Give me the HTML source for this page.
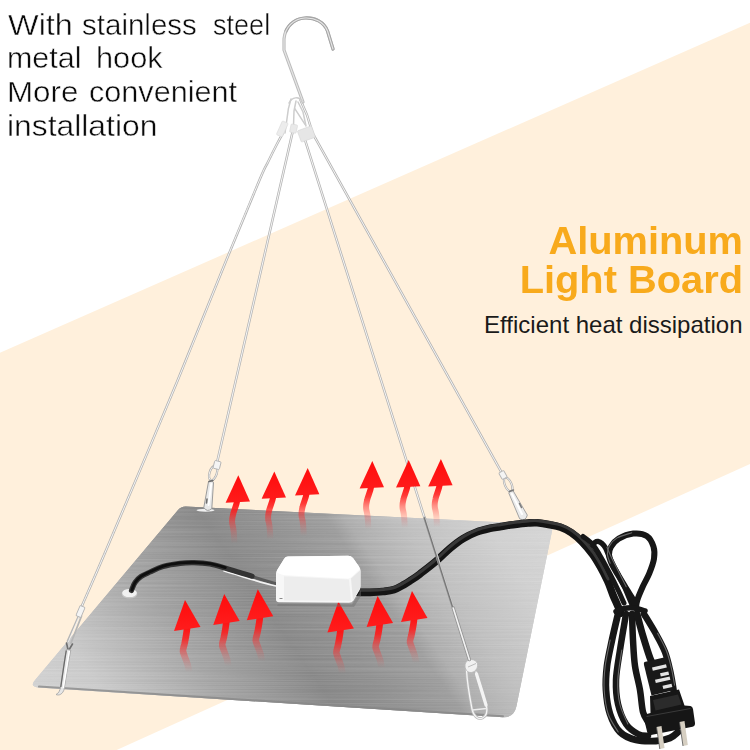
<!DOCTYPE html>
<html><head><meta charset="utf-8">
<style>
html,body{margin:0;padding:0;background:#fff;}
body{width:750px;height:750px;overflow:hidden;position:relative;font-family:"Liberation Sans",sans-serif;}
svg{position:absolute;left:0;top:0;}
.l{position:absolute;left:8px;font-size:29.5px;line-height:32px;height:32px;color:#0a0a0a;-webkit-text-stroke:0.45px #fff;white-space:nowrap;transform-origin:0 0;}
.t2{position:absolute;right:7.5px;top:220.8px;font-size:38.5px;line-height:39.5px;font-weight:bold;color:#f8aa1c;text-align:right;white-space:nowrap;transform-origin:100% 0;transform:scaleX(1.034);}
.t3{position:absolute;right:7.5px;top:312px;font-size:24px;line-height:26px;color:#1a1a1a;text-align:right;white-space:nowrap;}
</style></head><body>
<svg width="750" height="750" viewBox="0 0 750 750">
<defs>
<linearGradient id="plate" x1="32" y1="685" x2="456" y2="388.8" gradientUnits="userSpaceOnUse">
<stop offset="0" stop-color="#d0d0d0"/><stop offset="0.104" stop-color="#c8c8c8"/><stop offset="0.248" stop-color="#ababab"/><stop offset="0.288" stop-color="#a3a3a3"/><stop offset="0.456" stop-color="#878787"/><stop offset="0.547" stop-color="#8f8f8f"/><stop offset="0.652" stop-color="#9c9c9c"/><stop offset="0.681" stop-color="#acacac"/><stop offset="0.735" stop-color="#b8b8b8"/><stop offset="0.766" stop-color="#bebebe"/><stop offset="0.896" stop-color="#cfcfcf"/><stop offset="1" stop-color="#d4d4d4"/>
</linearGradient>
<filter id="brush" x="0" y="0" width="100%" height="100%" filterUnits="objectBoundingBox">
<feTurbulence type="fractalNoise" baseFrequency="0.004 0.75" numOctaves="2" seed="7" result="n"/>
<feColorMatrix in="n" type="matrix" values="0 0 0 0 1  0 0 0 0 1  0 0 0 0 1  1.6 0 0 0 -0.55"/>
<feComposite in2="SourceGraphic" operator="in"/>
</filter>
<linearGradient id="platev" x1="0" y1="508" x2="0" y2="716" gradientUnits="userSpaceOnUse">
<stop offset="0" stop-color="#000" stop-opacity="0.03"/><stop offset="0.3" stop-color="#000" stop-opacity="0"/><stop offset="1" stop-color="#fff" stop-opacity="0"/>
</linearGradient>
<linearGradient id="tailt" x1="0" y1="25" x2="0" y2="68" gradientUnits="userSpaceOnUse">
<stop offset="0" stop-color="#ff1010" stop-opacity="1"/><stop offset="0.25" stop-color="#ff1a1a" stop-opacity="0.85"/><stop offset="0.5" stop-color="#ff2626" stop-opacity="0.48"/><stop offset="0.75" stop-color="#ff3030" stop-opacity="0.2"/><stop offset="1" stop-color="#ff4040" stop-opacity="0"/>
</linearGradient>
<linearGradient id="tail" x1="0" y1="27" x2="0" y2="72" gradientUnits="userSpaceOnUse">
<stop offset="0" stop-color="#ff1010" stop-opacity="1"/><stop offset="0.25" stop-color="#ff1a1a" stop-opacity="0.88"/><stop offset="0.5" stop-color="#ff2626" stop-opacity="0.5"/><stop offset="0.75" stop-color="#ff3030" stop-opacity="0.2"/><stop offset="1" stop-color="#ff4040" stop-opacity="0"/>
</linearGradient>
<linearGradient id="head" x1="0" y1="0" x2="0" y2="30" gradientUnits="userSpaceOnUse">
<stop offset="0" stop-color="#ff0c0c"/><stop offset="1" stop-color="#ff1c1c"/>
</linearGradient>
<g id="arrow">
<path d="M2.200,27 C1.600,34 0.300,40 -0.500,44 C-1.500,48 -2.300,49.500 -2,51.500 C-1.500,54 0,56.800 2.700,64.800 L4.500,74" fill="none" stroke="url(#tail)" stroke-width="6.600"/>
<path d="M0,0 L15.500,27 L-11,31 Z" fill="url(#head)"/>
</g>
<g id="arrowt">
<path d="M-1,25 C-2,31 -4.500,35.500 -5.300,39.500 C-6.500,44.500 -6.600,47.500 -5.600,50.500 C-4.800,53.500 -4.200,58 -4,68" fill="none" stroke="url(#tailt)" stroke-width="6"/>
<path d="M0,0 L11.700,26.200 L-12.700,27.400 Z" fill="url(#head)"/>
</g>
</defs>
<polygon points="0,352.7 750,22.7 750,464 116.7,750 0,750" fill="#fff0dc"/>
<path id="pl" d="M186,506.500 L547,524.500 Q553,525 552,531 L516.500,706 Q514,718 503,717.200 L38,687.500 Q29,686.500 35.500,679.500 L178,510 Q181,506.300 186,506.500 Z" fill="url(#plate)"/>
<use href="#pl" fill="url(#platev)"/>
<use href="#pl" fill="#fff" filter="url(#brush)" opacity="0.17"/>
<path d="M39,686.600 L503,716.200" stroke="#858585" stroke-width="2" stroke-opacity="0.75" fill="none" stroke-linecap="round"/>

<g fill="none" stroke-linecap="round">
<g stroke="#b4b4b4" stroke-width="2.5" stroke-linejoin="round">
<path d="M283.0,133.0 C282.0,134.8 279.5,139.2 277.0,144.0 C274.5,148.8 270.9,156.0 268.0,162.0 C265.1,168.0 266.4,163.7 259.5,180.0 C252.6,196.3 240.0,226.7 226.4,260.0 C212.8,293.3 197.1,333.3 177.8,380.0 C158.5,426.7 126.8,501.5 110.4,540.0 C94.1,578.5 84.8,599.2 79.7,611.0"/>
<path d="M293.2,129.4 L216.7,464"/>
<path d="M305,139.8 L469.4,659.7"/>
<path d="M300.4,99.8 L307,115 L312.7,133.4 L502.8,474.7"/>
</g><g stroke="#f6f6f6" stroke-width="1.0" stroke-linejoin="round">
<path d="M283.0,133.0 C282.0,134.8 279.5,139.2 277.0,144.0 C274.5,148.8 270.9,156.0 268.0,162.0 C265.1,168.0 266.4,163.7 259.5,180.0 C252.6,196.3 240.0,226.7 226.4,260.0 C212.8,293.3 197.1,333.3 177.8,380.0 C158.5,426.7 126.8,501.5 110.4,540.0 C94.1,578.5 84.8,599.2 79.7,611.0"/>
<path d="M293.2,129.4 L216.7,464"/>
<path d="M305,139.8 L469.4,659.7"/>
<path d="M300.4,99.8 L307,115 L312.7,133.4 L502.8,474.7"/>
</g></g>
<!-- hook -->
<path d="M333,49 L327.5,31 C324,22 315,17.5 305,18 C294,18.5 285,27 284,39 L284,50 L303,102" fill="none" stroke="#bcbcbc" stroke-width="3.2" stroke-linecap="round" stroke-linejoin="round"/>
<path d="M333,49 L327.5,31 C324,22 315,17.5 305,18 C296,18.400 289,24 286,31" fill="none" stroke="#a6a6a6" stroke-width="3.200" stroke-linecap="round" stroke-linejoin="round"/>
<path d="M333,49 L327.5,31 C324,22 315,17.5 305,18 C294,18.5 285,27 284,39 L284,50 L303,102" fill="none" stroke="#e6e6e6" stroke-width="1.100" stroke-linecap="round" stroke-linejoin="round"/>
<!-- knot -->
<g fill="none" stroke="#cdcdcd" stroke-width="1.5" stroke-linecap="round" stroke-linejoin="round">
<path d="M285,133 L288.4,108.600 L291,99"/>
<path d="M293.5,126 L294,111 L296,101"/>
<path d="M294.800,108.600 L305.200,124.600"/>
<path d="M298,102 L303,112 L306,126"/>
<path d="M289,103 C292,97 299,96 302,101"/>
</g>
<rect x="-3.200" y="-7.500" width="6.400" height="15" rx="1" transform="translate(282.300,129) rotate(24)" fill="#ececec" stroke="#dadada" stroke-width="0.600"/>
<rect x="-3.300" y="-4.200" width="6.600" height="8.400" rx="1" transform="translate(293.600,128.600) rotate(12)" fill="#e9e9e9" stroke="#d8d8d8" stroke-width="0.600"/>
<rect x="-7.500" y="-6" width="15" height="12" rx="1" transform="translate(306.400,134) rotate(-20)" fill="#e6e6e6" stroke="#d6d6d6" stroke-width="0.600"/>
<!-- clips -->

<ellipse cx="205.5" cy="510.3" rx="9" ry="1.5" fill="#f0f0f0"/>
<ellipse cx="0" cy="0" rx="3.6" ry="7.6" transform="translate(213.2,473.0) rotate(18)" fill="none" stroke="#a9a9a9" stroke-width="2.2"/><ellipse cx="0" cy="0" rx="3.6" ry="7.6" transform="translate(213.2,473.0) rotate(18)" fill="none" stroke="#f2f2f2" stroke-width="0.9"/>
<path d="M208.5,481.7 L203.8,507.5 Q207.2,512.8 211.8,508.5 L213.5,482.3 Q211.3,479.5 208.5,481.7 Z" fill="#e9e9e9" stroke="#9c9c9c" stroke-width="1.0" stroke-linejoin="round"/>
<path d="M211.2,484 L208.6,505" stroke="#ffffff" stroke-width="2" fill="none" stroke-linecap="round"/>
<path d="M212.8,480.5 L209,481.5 M207,499 L206.5,503" stroke="#6e6e6e" stroke-width="1.6" fill="none" stroke-linecap="round"/>
<rect x="-3.2" y="-4.0" width="6.5" height="8.0" rx="1" transform="translate(217.0,465.0) rotate(14)" fill="#f4f4f4" stroke="#b4b4b4" stroke-width="0.9"/>
<ellipse cx="0" cy="0" rx="3.3" ry="7.4" transform="translate(508.2,484.5) rotate(-24)" fill="none" stroke="#a9a9a9" stroke-width="2.2"/><ellipse cx="0" cy="0" rx="3.3" ry="7.4" transform="translate(508.2,484.5) rotate(-24)" fill="none" stroke="#f2f2f2" stroke-width="0.9"/>
<path d="M508.8,493.1 L519.7,518.9 Q525.8,521.6 527.3,515.1 L513.2,490.9 Q509.9,489.8 508.8,493.1 Z" fill="#ebebeb" stroke="#a2a2a2" stroke-width="1.0" stroke-linejoin="round"/>
<path d="M512,494 L522,514" stroke="#ffffff" stroke-width="2" fill="none" stroke-linecap="round"/>
<path d="M509.5,491.5 L513.5,490 M519.5,503.5 L521.5,507.500" stroke="#7a7a7a" stroke-width="1.5" fill="none" stroke-linecap="round"/>
<rect x="-2.8" y="-3.8" width="5.6" height="7.5" rx="1" transform="translate(503.0,475.0) rotate(-29)" fill="#f4f4f4" stroke="#b4b4b4" stroke-width="0.9"/>
<g fill="none" stroke-linecap="round" stroke-linejoin="round">
<path d="M79,615 L67.500,641 M81.500,616 L71,643" stroke="#b6b6b6" stroke-width="1.800"/>
<path d="M79.500,615.500 L68.500,641.500" stroke="#f4f4f4" stroke-width="0.800"/>
<path d="M66.500,643 L68.300,651 L72.500,644" stroke="#6f6f6f" stroke-width="1.600"/>
</g>
<path d="M66.300,649.500 C64.500,660 62.500,674 60.800,686 C60.200,690.500 58.500,693.500 56,694.500 C59,696 63,694 64.200,689 C66.200,676 68.800,661 70.800,650 Z" fill="#e6e6e6" stroke="#a8a8a8" stroke-width="0.900"/>
<path d="M66.300,650.500 C64.500,661 62.500,675 60.800,687" stroke="#6a6a6a" stroke-width="1.300" fill="none"/>
<path d="M69.300,651 C67.500,662 65.300,676 63.300,688" stroke="#ffffff" stroke-width="1.500" fill="none"/>
<rect x="-2.7" y="-5.5" width="5.4" height="11.0" rx="1" transform="translate(80.5,611.5) rotate(23)" fill="#f4f4f4" stroke="#b4b4b4" stroke-width="0.9"/>
<g fill="none" stroke-linecap="round" stroke-linejoin="round">
<path d="M466.500,670 C467,680 469.500,696 472,709 C473.500,716 478,720 482.500,718 C486.500,716 487.500,711 486.500,706 C484,695 479.500,682 476,672" stroke="#bdbdbd" stroke-width="2.8"/>
<path d="M466.500,670 C467,680 469.500,696 472,709 C473.500,716 478,720 482.500,718 C486.500,716 487.500,711 486.500,706 C484,695 479.500,682 476,672" stroke="#f6f6f6" stroke-width="1.3"/>
<path d="M476.500,674 L486,705" stroke="#f4f4f4" stroke-width="3.2"/>
<path d="M472.500,710 L486.500,708.500" stroke="#ececec" stroke-width="1.4"/>
</g>
<path d="M465.500,663 C468,658 475.500,658.500 477.500,663.500 C478.500,668.500 474.500,673 470,672.500 C466,672 464,667 465.500,663 Z" fill="#f1f1f1" stroke="#b9b9b9" stroke-width="0.9"/>
<path d="M468,667 L476,663.500" stroke="#bcbcbc" stroke-width="1" fill="none"/>
<use href="#arrowt" transform="translate(238.3,475.3)"/>
<use href="#arrowt" transform="translate(274.3,471.4)"/>
<use href="#arrowt" transform="translate(307.7,468)"/>
<use href="#arrowt" transform="translate(372.3,461)"/>
<use href="#arrowt" transform="translate(408.7,460)"/>
<use href="#arrowt" transform="translate(440.9,459.1)"/>
<use href="#arrow" transform="translate(185,600)"/>
<use href="#arrow" transform="translate(224.2,594)"/>
<use href="#arrow" transform="translate(257.8,589.3)"/>
<use href="#arrow" transform="translate(338.4,601.6)"/>
<use href="#arrow" transform="translate(377.6,596)"/>
<use href="#arrow" transform="translate(412,590.9)"/>
<ellipse cx="129.5" cy="594" rx="7.8" ry="4.6" fill="#c4c4c4"/>
<ellipse cx="129.5" cy="593" rx="7.3" ry="4.1" fill="#f1f1f1"/>
<g fill="none" stroke-linecap="round">
<path d="M225,568 C240,572 258,579 276,583.8" stroke="#5a5a5a" stroke-width="3.2"/>
<path d="M224,571 C240,575.5 258,582 276,586" stroke="#f3f3f3" stroke-width="1.7"/>
<path d="M131.5,590.5 C132.1,589.2 133.4,584.8 135.0,582.5 C136.6,580.2 138.5,578.2 141.0,576.5 C143.5,574.8 146.3,573.7 150.0,572.0 C153.7,570.3 158.0,568.0 163.0,566.5 C168.0,565.0 174.8,563.9 180.0,563.3 C185.2,562.7 189.0,562.6 194.0,562.7 C199.0,562.8 204.8,563.1 210.0,564.0 C215.2,564.9 220.3,566.7 225.0,568.0 C229.7,569.3 233.5,570.6 238.0,572.0 C242.5,573.4 249.7,575.5 252.0,576.2" stroke="#333333" stroke-width="5.2"/>
<path d="M131.8,590.1 C132.4,588.8 133.7,584.4 135.3,582.1 C136.9,579.8 138.8,577.9 141.3,576.1 C143.8,574.4 146.6,573.3 150.3,571.6 C154.0,569.9 158.3,567.6 163.3,566.1 C168.3,564.6 175.1,563.5 180.3,562.9 C185.5,562.3 189.3,562.2 194.3,562.3 C199.3,562.4 205.1,562.7 210.3,563.6 C215.5,564.5 222.8,566.9 225.3,567.6" stroke="#0e0e0e" stroke-width="2.8"/>
</g>
<g fill="none" stroke-linecap="round" stroke-linejoin="round">
<path d="M356.5,592.3 C358.8,592.3 365.6,592.5 370.0,592.4 C374.4,592.3 378.7,592.1 382.7,591.6 C386.7,591.1 390.4,590.8 394.0,589.6 C397.6,588.4 401.3,586.1 404.0,584.6 C406.7,583.1 407.3,582.7 410.0,580.9 C412.7,579.1 415.6,577.3 420.0,573.9 C424.4,570.5 431.7,564.9 436.7,560.6 C441.7,556.4 445.6,552.1 450.0,548.4 C454.4,544.7 458.9,541.2 463.3,538.5 C467.8,535.8 472.2,533.7 476.7,532.0 C481.1,530.3 486.1,529.2 490.0,528.3 C493.9,527.4 496.7,527.3 500.0,526.8 C503.3,526.2 506.9,525.5 510.0,525.0 C513.1,524.5 515.7,524.3 518.7,524.0 C521.7,523.7 524.9,523.2 528.0,523.0 C531.1,522.8 533.6,522.5 537.3,522.8 C541.0,523.1 546.1,524.0 550.0,524.8 C553.9,525.5 557.2,526.0 560.7,527.3 C564.2,528.6 567.8,530.2 571.3,532.6 C574.8,535.0 578.4,538.1 582.0,541.7 C585.6,545.4 589.7,550.4 592.7,554.5 C595.7,558.6 597.5,561.8 600.0,566.2 C602.5,570.6 605.4,576.2 607.6,581.0 C609.8,585.8 611.5,591.3 613.0,595.0 C614.5,598.7 615.2,600.0 616.5,603.0 C617.8,606.0 620.2,611.3 621.0,613.0" stroke="#141414" stroke-width="7.6"/>
<path d="M357.0,590.2 C359.2,590.2 366.1,590.4 370.5,590.3 C374.9,590.2 379.2,590.0 383.2,589.5 C387.2,589.0 390.9,588.7 394.5,587.5 C398.1,586.3 401.8,584.0 404.5,582.5 C407.2,581.0 407.8,580.6 410.5,578.8 C413.2,577.0 416.1,575.2 420.5,571.8 C424.9,568.4 432.2,562.8 437.2,558.5 C442.2,554.2 446.1,550.0 450.5,546.3 C454.9,542.6 459.4,539.1 463.8,536.4 C468.2,533.7 472.8,531.6 477.2,529.9 C481.6,528.2 486.6,527.1 490.5,526.2 C494.4,525.3 497.2,525.2 500.5,524.7 C503.8,524.1 507.4,523.4 510.5,522.9 C513.6,522.4 516.2,522.2 519.2,521.9 C522.2,521.6 525.4,521.1 528.5,520.9 C531.6,520.7 534.1,520.4 537.8,520.7 C541.5,521.0 546.6,521.9 550.5,522.7 C554.4,523.4 557.7,523.9 561.2,525.2 C564.8,526.5 568.2,528.1 571.8,530.5 C575.3,532.9 578.9,536.0 582.5,539.6 C586.1,543.2 590.2,548.3 593.2,552.4 C596.2,556.5 598.0,559.7 600.5,564.1 C603.0,568.5 606.8,576.4 608.1,578.9" stroke="#383838" stroke-width="3"/>
</g>
<g fill="none" stroke="#171717" stroke-linecap="round" stroke-linejoin="round">
<path d="M593.0,545.0 C593.3,544.5 594.2,542.9 595.0,542.3 C595.8,541.7 596.8,541.2 598.0,541.4 C599.2,541.6 600.8,542.4 602.0,543.5 C603.2,544.6 604.2,545.6 605.5,548.0 C606.8,550.4 607.9,554.0 609.7,557.7 C611.5,561.5 613.6,565.5 616.1,570.5 C618.6,575.5 622.4,582.6 624.7,587.5 C627.0,592.4 628.6,596.8 630.0,600.0 C631.4,603.2 632.5,605.8 633.0,607.0" stroke-width="5.2"/>
<path d="M583.0,536.5 C584.6,537.8 589.7,541.0 592.7,544.5 C595.7,548.0 598.4,552.9 601.2,557.7 C604.0,562.5 606.9,568.0 609.7,573.5 C612.6,579.0 615.9,585.6 618.3,590.5 C620.7,595.4 623.0,600.9 624.0,603.0" stroke-width="5"/>
<path d="M636.0,608.0 C635.5,606.7 634.8,603.1 633.3,600.0 C631.8,596.9 629.1,593.3 626.7,589.3 C624.3,585.3 621.2,580.2 618.7,576.0 C616.2,571.8 613.4,567.5 611.8,564.0 C610.2,560.5 609.1,557.6 609.0,554.7 C608.9,551.8 609.4,549.4 611.0,546.7 C612.6,544.0 615.0,540.9 618.7,538.7 C622.4,536.5 628.6,534.1 633.3,533.6 C638.0,533.1 643.3,533.8 646.7,536.0 C650.1,538.2 652.3,542.9 653.5,546.7 C654.7,550.5 654.7,554.3 654.0,558.7 C653.3,563.1 651.2,568.6 649.3,573.3 C647.4,578.0 644.7,582.2 642.7,586.7 C640.7,591.2 638.4,596.5 637.3,600.0 C636.2,603.5 636.2,606.7 636.0,608.0" stroke-width="6"/>
<path d="M618.0,614.0 C617.0,618.3 613.8,631.3 612.0,640.0 C610.2,648.7 608.0,657.7 607.0,666.0 C606.0,674.3 605.5,682.0 606.0,690.0 C606.5,698.0 607.7,707.0 610.0,714.0 C612.3,721.0 615.7,727.7 620.0,732.0 C624.3,736.3 630.0,738.5 636.0,740.0 C642.0,741.5 650.3,741.3 656.0,741.0 C661.7,740.7 666.3,739.5 670.0,738.0 C673.7,736.5 676.7,733.0 678.0,732.0" stroke-width="6.8"/>
<path d="M626.0,614.0 C625.0,620.0 621.7,639.0 620.0,650.0 C618.3,661.0 616.3,671.0 616.0,680.0 C615.7,689.0 616.3,696.7 618.0,704.0 C619.7,711.3 622.7,719.0 626.0,724.0 C629.3,729.0 634.3,732.0 638.0,734.0 C641.7,736.0 646.3,735.7 648.0,736.0" stroke-width="6.5"/>
<path d="M632.0,614.0 C632.2,618.3 632.5,631.3 633.0,640.0 C633.5,648.7 633.8,657.7 635.0,666.0 C636.2,674.3 638.7,682.3 640.0,690.0 C641.3,697.7 641.7,706.7 643.0,712.0 C644.3,717.3 647.2,720.3 648.0,722.0" stroke-width="6.5"/>
<path d="M637.0,614.0 C638.0,617.7 640.8,628.7 643.0,636.0 C645.2,643.3 648.3,653.3 650.0,658.0 C651.7,662.7 652.5,663.0 653.0,664.0" stroke-width="7"/>
<path d="M644.0,614.0 C646.0,617.3 652.5,627.7 656.0,634.0 C659.5,640.3 662.7,646.0 665.0,652.0 C667.3,658.0 668.7,664.3 670.0,670.0 C671.3,675.7 672.3,682.0 673.0,686.0 C673.7,690.0 673.8,692.7 674.0,694.0" stroke-width="6.5"/>
<path d="M616.0,611.5 C617.3,611.0 621.0,609.1 624.0,608.5 C627.0,607.9 630.5,607.6 634.0,608.0 C637.5,608.4 643.2,610.5 645.0,611.0" stroke-width="5.5"/>
</g>
<g fill="none" stroke-linecap="round">
<path d="M424.700,518 L453.500,609" stroke="#a6a6a6" stroke-width="2.700"/>
<path d="M424.400,518 L453.200,609" stroke="#787878" stroke-width="1.300"/>
<path d="M425.700,518 L454.500,609" stroke="#d2d2d2" stroke-width="0.800"/>
<path d="M453.200,608 L469.400,659.700" stroke="#939393" stroke-width="3.200"/>
<path d="M453.200,608 L469.400,659.700" stroke="#f2f2f2" stroke-width="1.600"/>
</g>
<g fill="none" stroke="#6a6a6a" stroke-linecap="round" stroke-width="1.1">
<path d="M610.2,563.2 C609.7,561.7 607.5,556.8 607.4,553.9 C607.3,551.0 607.8,548.6 609.4,545.9 C611.0,543.2 613.4,540.1 617.1,537.9 C620.8,535.7 629.3,533.7 631.7,532.8"/>
<path d="M610.2,640.0 C609.4,644.3 606.2,657.7 605.2,666.0 C604.2,674.3 603.7,682.0 604.2,690.0 C604.7,698.0 605.9,707.0 608.2,714.0 C610.5,721.0 616.5,729.0 618.2,732.0"/>
<path d="M621.8,650.0 C621.1,655.0 618.1,671.0 617.8,680.0 C617.5,689.0 618.1,696.7 619.8,704.0 C621.5,711.3 626.5,720.7 627.8,724.0"/>
<path d="M657.6,633.2 C659.1,636.2 664.3,645.2 666.6,651.2 C668.9,657.2 670.3,663.5 671.6,669.2 C672.9,674.9 674.1,682.5 674.6,685.2"/>
<path d="M607.0,547.3 C607.7,548.9 609.4,553.2 611.2,557.0 C613.0,560.8 615.1,564.8 617.6,569.8 C620.1,574.8 624.8,584.0 626.2,586.8"/>
</g>
<!-- plug -->
<g>
<path d="M644.500,662 L664,657.500 Q667,657 668,660 L674.500,690 L651.500,695.500 L644,665 Q643.500,662.500 644.500,662 Z" fill="#191919"/>
<path d="M650,696 L679,689.500 L684.500,705.500 L690.500,706 Q692.500,706.500 693,709 L695,723 Q695.300,726 692.500,726.800 L651,735 Q648,735.300 647.300,732.500 L643.800,718 Q643.300,715 646,714.200 L650.500,713 Z" fill="#161616"/>
<path d="M653,700 L678,694.500 L681.500,704.500 L655.500,710.500 Z" fill="#2b2b2b"/>
<path d="M646.500,716.500 L690.500,708.500" stroke="#3a3a3a" stroke-width="1" fill="none"/>
<g fill="#e4e4e4">
<path d="M652,667.500 L666,664.300 L666.800,667.600 L652.800,670.800 Z"/>
<path d="M660,673.300 L668.300,671.400 L669.100,674.700 L660.800,676.600 Z"/>
<path d="M655,679.800 L669.600,676.500 L670.400,679.800 L655.800,683.100 Z"/>
<path d="M662.500,685.800 L671.500,683.700 L672.300,687 L663.300,689.100 Z"/>
</g>
<path d="M656.500,727 L661.500,726 L664.500,748 L659.800,749 Z" fill="#d6cfc2"/>
<path d="M679.500,722 L684.500,721 L687.800,745 L683,746 Z" fill="#d6cfc2"/>
<path d="M656.500,727 L659.800,749 M679.500,722 L683,746" stroke="#555" stroke-width="0.800" fill="none"/>
</g>
<!-- box -->
<path d="M278,604 L352,604.500 L361,590 L361,596 L354,607 L277,606 Z" fill="#6f6f6f" fill-opacity="0.45"/>
<path d="M288,556.600 L348,555.800 Q351,555.800 353,558 L359,566.500 Q360.500,568.500 360.500,571 L360.500,586 Q360.500,588.500 359,591 L353.500,600.500 Q352,602.800 349,602.800 L279,602.200 Q276,602.200 276,599.500 L276,574 Q276,571.500 277.500,569.500 L284,559 Q285.500,556.600 288,556.600 Z" fill="#f7f7f7"/>
<path d="M288,556.600 L348,555.800 Q351,555.800 353,558 L359,566.500 Q360.500,568.500 358.500,570.500 L351,577.500 Q349.500,578.800 347,578.600 L286,575.300 Q282,575 279,573.500 L277,572.500 Q276.300,571 277.500,569.500 L284,559 Q285.500,556.600 288,556.600 Z" fill="#ffffff"/>
<path d="M284,576.200 L349,579.600 L351,600.800 L284,600.600 Z" fill="#ededed"/>
<path d="M351,578.500 L360.500,570 L360.500,587 L353,600.500 Z" fill="#e6e6e6"/>
<path d="M279.500,598.500 L282.500,598.500" stroke="#8a8a8a" stroke-width="1" fill="none"/>
</svg>
<div class="l" style="left:8.20px;top:9px;transform:scaleX(1.1000)">With</div>
<div class="l" style="left:81.90px;top:9px;transform:scaleX(1.0009)">stainless</div>
<div class="l" style="left:212.98px;top:9px;transform:scaleX(0.9169)">steel</div>
<div class="l" style="left:7.24px;top:42px;transform:scaleX(1.0324)">metal</div>
<div class="l" style="left:95.72px;top:42px;transform:scaleX(1.0419)">hook</div>
<div class="l" style="left:7.18px;top:76px;transform:scaleX(1.0625)">More</div>
<div class="l" style="left:88.56px;top:76px;transform:scaleX(1.0380)">convenient</div>
<div class="l" style="left:7.14px;top:110px;transform:scaleX(1.0787)">installation</div>
<div class="t2">Aluminum<br>Light Board</div>
<div class="t3">Efficient heat dissipation</div>
</body></html>
